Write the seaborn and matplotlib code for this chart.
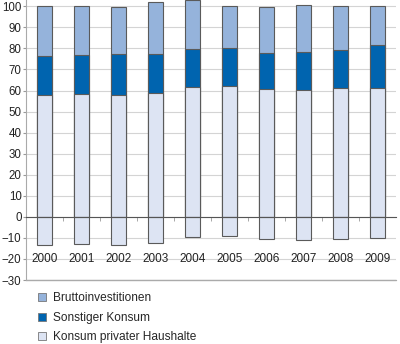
import matplotlib
matplotlib.use("Agg")
import matplotlib.pyplot as plt
from matplotlib.patches import Patch
import seaborn as sns
import pandas as pd
import numpy as np

years = ["2000", "2001", "2002", "2003", "2004", "2005", "2006", "2007", "2008", "2009"]
konsum_privat = [57.8, 58.2, 57.8, 58.9, 61.6, 62.2, 60.8, 60.1, 61.2, 61.4]
sonstiger_konsum = [18.8, 18.9, 19.6, 18.5, 18.3, 18.2, 17.2, 18.4, 17.9, 20.4]
bruttoinvest = [23.4, 22.9, 22.4, 24.5, 23.0, 19.9, 21.8, 22.3, 20.9, 18.2]
aussenbeitrag = [-13.6, -13.1, -13.6, -12.2, -9.8, -9.3, -10.7, -11.2, -10.3, -10.0]
labels = ["Bruttoinvestitionen", "Sonstiger Konsum", "Konsum privater Haushalte"]

c_invest = "#95B3DB"
c_sonst = "#0064AF"
c_privat = "#DDE4F3"
edge = "#5a5a5a"

sns.set_theme(style="white")
plt.rcParams["font.family"] = ["Liberation Sans", "DejaVu Sans"]

df = pd.DataFrame({
    "year": years,
    "privat": konsum_privat,
    "sonst": sonstiger_konsum,
    "invest": bruttoinvest,
    "aussen": aussenbeitrag,
})
df["cum2"] = df["privat"] + df["sonst"]
df["cum3"] = df["cum2"] + df["invest"]

fig = plt.figure(figsize=(4.0, 3.44), dpi=100)
ax = fig.add_axes([0.065, 0.186, 0.925, 0.814])

ax.set_axisbelow(True)
ax.yaxis.grid(True, color="#d4d4d4", linewidth=0.8)

kw = dict(width=0.42, edgecolor=edge, linewidth=0.8, ax=ax, zorder=3)
sns.barplot(data=df, x="year", y="cum3", color=c_invest, saturation=1, **kw)
sns.barplot(data=df, x="year", y="cum2", color=c_sonst, saturation=1, **kw)
sns.barplot(data=df, x="year", y="privat", color=c_privat, saturation=1, **kw)
sns.barplot(data=df, x="year", y="aussen", color=c_privat, saturation=1, **kw)

ax.set_ylim(-30, 103)
ax.set_xlim(-0.5, 9.5)
ax.set_yticks(np.arange(-30, 101, 10))
ax.tick_params(axis="y", labelsize=8.3, colors="#222222", length=2, width=0.8,
               direction="out", pad=1.2, color="#999999", left=True)
ax.set_ylabel("")
ax.set_xlabel("")

# zero line as bottom spine with category separators
ax.spines["bottom"].set_position(("data", 0))
ax.spines["bottom"].set_color("#555555")
ax.spines["bottom"].set_linewidth(0.8)
ax.spines["bottom"].set_zorder(4)
ax.set_xticks(np.arange(0.5, 9.5, 1.0))
ax.set_xticklabels([])
ax.tick_params(axis="x", bottom=True, length=3, width=0.6, color="#999999", direction="out")
ax.spines["left"].set_color("#aaaaaa")
ax.spines["left"].set_linewidth(0.8)
ax.spines["right"].set_visible(False)
ax.spines["top"].set_visible(False)
ax.axhline(-30, color="#aaaaaa", linewidth=1.0, clip_on=False, zorder=4)

for i, y in enumerate(years):
    ax.text(i, -20, y, ha="center", va="center", fontsize=8.5, color="#222222")

handles = [Patch(facecolor=c, edgecolor="#777777", linewidth=0.6) for c in (c_invest, c_sonst, c_privat)]
fig.legend(handles, labels, loc="upper left", bbox_to_anchor=(0.095, 0.15),
           frameon=False, fontsize=8.6, handlelength=0.65, handleheight=0.65,
           handletextpad=0.6, labelspacing=0.62, borderpad=0, borderaxespad=0)

fig.savefig("out.png", dpi=100)
